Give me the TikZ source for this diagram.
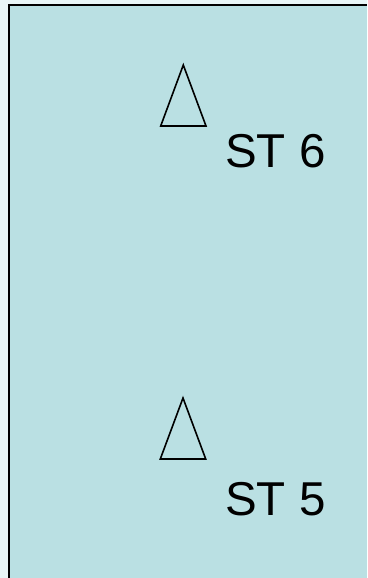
\documentclass[tikz,border=0pt]{standalone}
\usepackage{fontspec}
\setmainfont{Liberation Sans}
\definecolor{panel}{HTML}{BAE0E3}
\definecolor{strip}{HTML}{E9F6F7}
\begin{document}
\begin{tikzpicture}[x=1pt,y=-1pt,
  tri/.style={draw=black,line width=1.6pt,line join=miter},
  lbl/.style={anchor=base west,inner sep=0pt,font=\fontsize{47.5}{47.5}\selectfont}]
\useasboundingbox (0,0) rectangle (367,578);
\fill[strip] (0,0) rectangle (367,578);
\fill[panel] (9,5) rectangle (367,578);
\draw[line width=2.2pt] (9,578) -- (9,5) -- (367,5);
\draw[tri] (183.3,65) -- (160.7,126) -- (206,126) -- cycle;
\node[lbl] (st6) at (225,167) {ST 6};
\draw[tri] (183,398) -- (160.3,459) -- (205.7,459) -- cycle;
\node[lbl] (st5) at (225,515) {ST 5};
\end{tikzpicture}
\end{document}
